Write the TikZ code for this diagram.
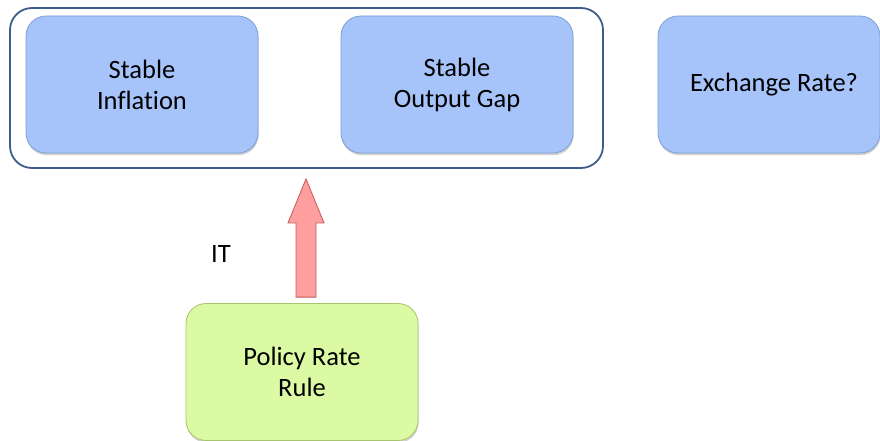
\documentclass[tikz,border=0pt]{standalone}
\usepackage{fontspec}
\setmainfont[Ligatures=NoCommon]{Carlito}
\usetikzlibrary{calc,shadows}
\definecolor{goalfill}{HTML}{A6C4FA}
\definecolor{goalline}{HTML}{7D9FD6}
\definecolor{rulefill}{HTML}{DBFAA3}
\definecolor{ruleline}{HTML}{A9C46E}
\definecolor{framecol}{HTML}{3D5E8C}
\definecolor{arrfill}{HTML}{FF9E9E}
\definecolor{arrline}{HTML}{C65A57}
\tikzset{
  goalbox/.style={draw=goalline, fill=goalfill, line width=0.8pt, rounded corners=20pt,
    minimum width=232pt, minimum height=137pt, align=center, font=\fontsize{26.5}{31}\selectfont,
    drop shadow={shadow xshift=0.6pt, shadow yshift=-2.2pt, opacity=0.3, fill=black!60}},
  rulebox/.style={goalbox, draw=ruleline, fill=rulefill},
  frame/.style={draw=framecol, line width=1.8pt, rounded corners=22pt},
  bigarrow/.style={draw=arrline, fill=arrfill, line width=0.8pt, line join=miter},
  tag/.style={font=\fontsize{26.5}{31}\selectfont}
}
\begin{document}
\begin{tikzpicture}[x=1pt, y=-1pt]
  \useasboundingbox (0,0) rectangle (880,441);
  % policy targets grouped in a frame
  \node[frame, minimum width=593pt, minimum height=160pt] (grp) at (306.5,88) {};
  \node[goalbox] (infl) at (142,84.5) {Stable\\Inflation};
  \node[goalbox] (gap) at (457,84.5) {Stable\\Output Gap};
  \node[goalbox, minimum width=222pt] (fx) at (769,84.5) {\hspace*{10pt}Exchange Rate?};
  % the instrument
  \node[rulebox] (rule) at (302,372) {Policy Rate\\Rule};
  % block arrow from the rule up to the frame
  \coordinate (tail) at (rule.north -| 306,0);
  \coordinate (tip) at ($(grp.south -| 306,0)+(0,10)$);
  \draw[bigarrow] ($(tail)+(-10,-6)$) -- ($(tip)+(-10,44)$) -- ($(tip)+(-18,44)$) -- (tip)
    -- ($(tip)+(18,44)$) -- ($(tip)+(10,44)$) -- ($(tail)+(10,-6)$) -- cycle;
  \node[tag] (it) at (221,254) {IT};
\end{tikzpicture}
\end{document}
